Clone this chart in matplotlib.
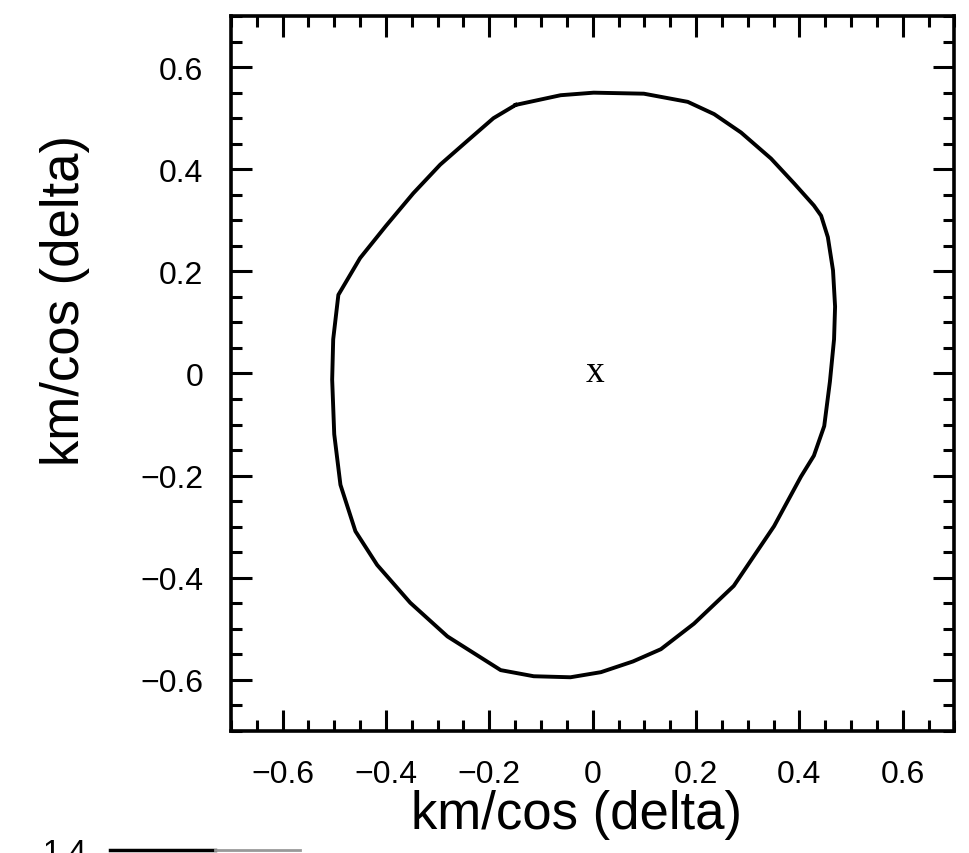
import matplotlib
matplotlib.use("Agg")
import matplotlib.pyplot as plt
from matplotlib.lines import Line2D
from matplotlib.ticker import MultipleLocator

plt.rcParams['font.family'] = ['Liberation Sans', 'DejaVu Sans']

# contour traced clockwise from the upper-left corner (km/cos(delta))
contour_x = [-0.149, -0.062, 0.002, 0.099, 0.184, 0.235, 0.287, 0.345, 0.390,
             0.428, 0.442, 0.455, 0.465, 0.469, 0.467, 0.459, 0.448, 0.428,
             0.403, 0.351, 0.273, 0.196, 0.132, 0.078, 0.016, -0.043, -0.114,
             -0.178, -0.281, -0.353, -0.417, -0.459, -0.488, -0.500, -0.504,
             -0.502, -0.492, -0.450, -0.400, -0.347, -0.295, -0.242, -0.192,
             -0.149]
contour_y = [0.526, 0.545, 0.550, 0.548, 0.532, 0.508, 0.472, 0.421, 0.372,
             0.329, 0.309, 0.267, 0.202, 0.131, 0.067, -0.016, -0.103, -0.161,
             -0.202, -0.299, -0.416, -0.490, -0.540, -0.564, -0.585, -0.595,
             -0.593, -0.581, -0.515, -0.449, -0.375, -0.309, -0.218, -0.119,
             -0.012, 0.067, 0.154, 0.226, 0.289, 0.353, 0.409, 0.456, 0.500,
             0.526]

# centre marker
center_x, center_y = 0.005, -0.014

axis_lim = (-0.7, 0.7)
label_text = "km/cos (delta)"


def fmt(v, pos):
    # plain "0" at the origin, true minus sign elsewhere
    if abs(v) < 1e-9:
        return '0'
    return f'{v:.1f}'.replace('-', '\u2212')


fig = plt.figure(figsize=(9.7, 8.54), dpi=100)
ax = fig.add_axes([0.238, 0.143, 0.746, 0.837])

ax.plot(contour_x, contour_y, color='black', lw=2.8, solid_joinstyle='round')
ax.text(center_x, center_y, 'x', family='Liberation Serif', fontsize=27,
        ha='center', va='baseline')

ax.set_xlim(axis_lim)
ax.set_ylim(axis_lim)

ax.xaxis.set_major_locator(MultipleLocator(0.2))
ax.yaxis.set_major_locator(MultipleLocator(0.2))
ax.xaxis.set_minor_locator(MultipleLocator(0.05))
ax.yaxis.set_minor_locator(MultipleLocator(0.05))
ax.xaxis.set_major_formatter(fmt)
ax.yaxis.set_major_formatter(fmt)

ax.tick_params(which='both', direction='in', top=True, right=True,
               width=2.2, color='black', labelsize=23, pad=20)
ax.tick_params(which='major', length=15)
ax.tick_params(which='minor', length=8)
for s in ax.spines.values():
    s.set_linewidth(2.6)

ax.set_xlabel(label_text, fontsize=38)
ax.set_ylabel(label_text, fontsize=38)
ax.xaxis.label.set_va('center')
ax.yaxis.label.set_va('center')
ax.xaxis.set_label_coords(0.477, -0.116)
ax.yaxis.set_label_coords(-0.229, 0.604)

# top of the next panel, cut off by the page edge
fig.text(0.044, -0.009, '1.4', fontsize=23, va='baseline')
fig.add_artist(Line2D([0.113, 0.222], [0.004, 0.004], transform=fig.transFigure,
                      color='black', lw=2.5))
fig.add_artist(Line2D([0.222, 0.309], [0.004, 0.004], transform=fig.transFigure,
                      color='#999999', lw=2.0))

fig.savefig('out.png', dpi=100)
